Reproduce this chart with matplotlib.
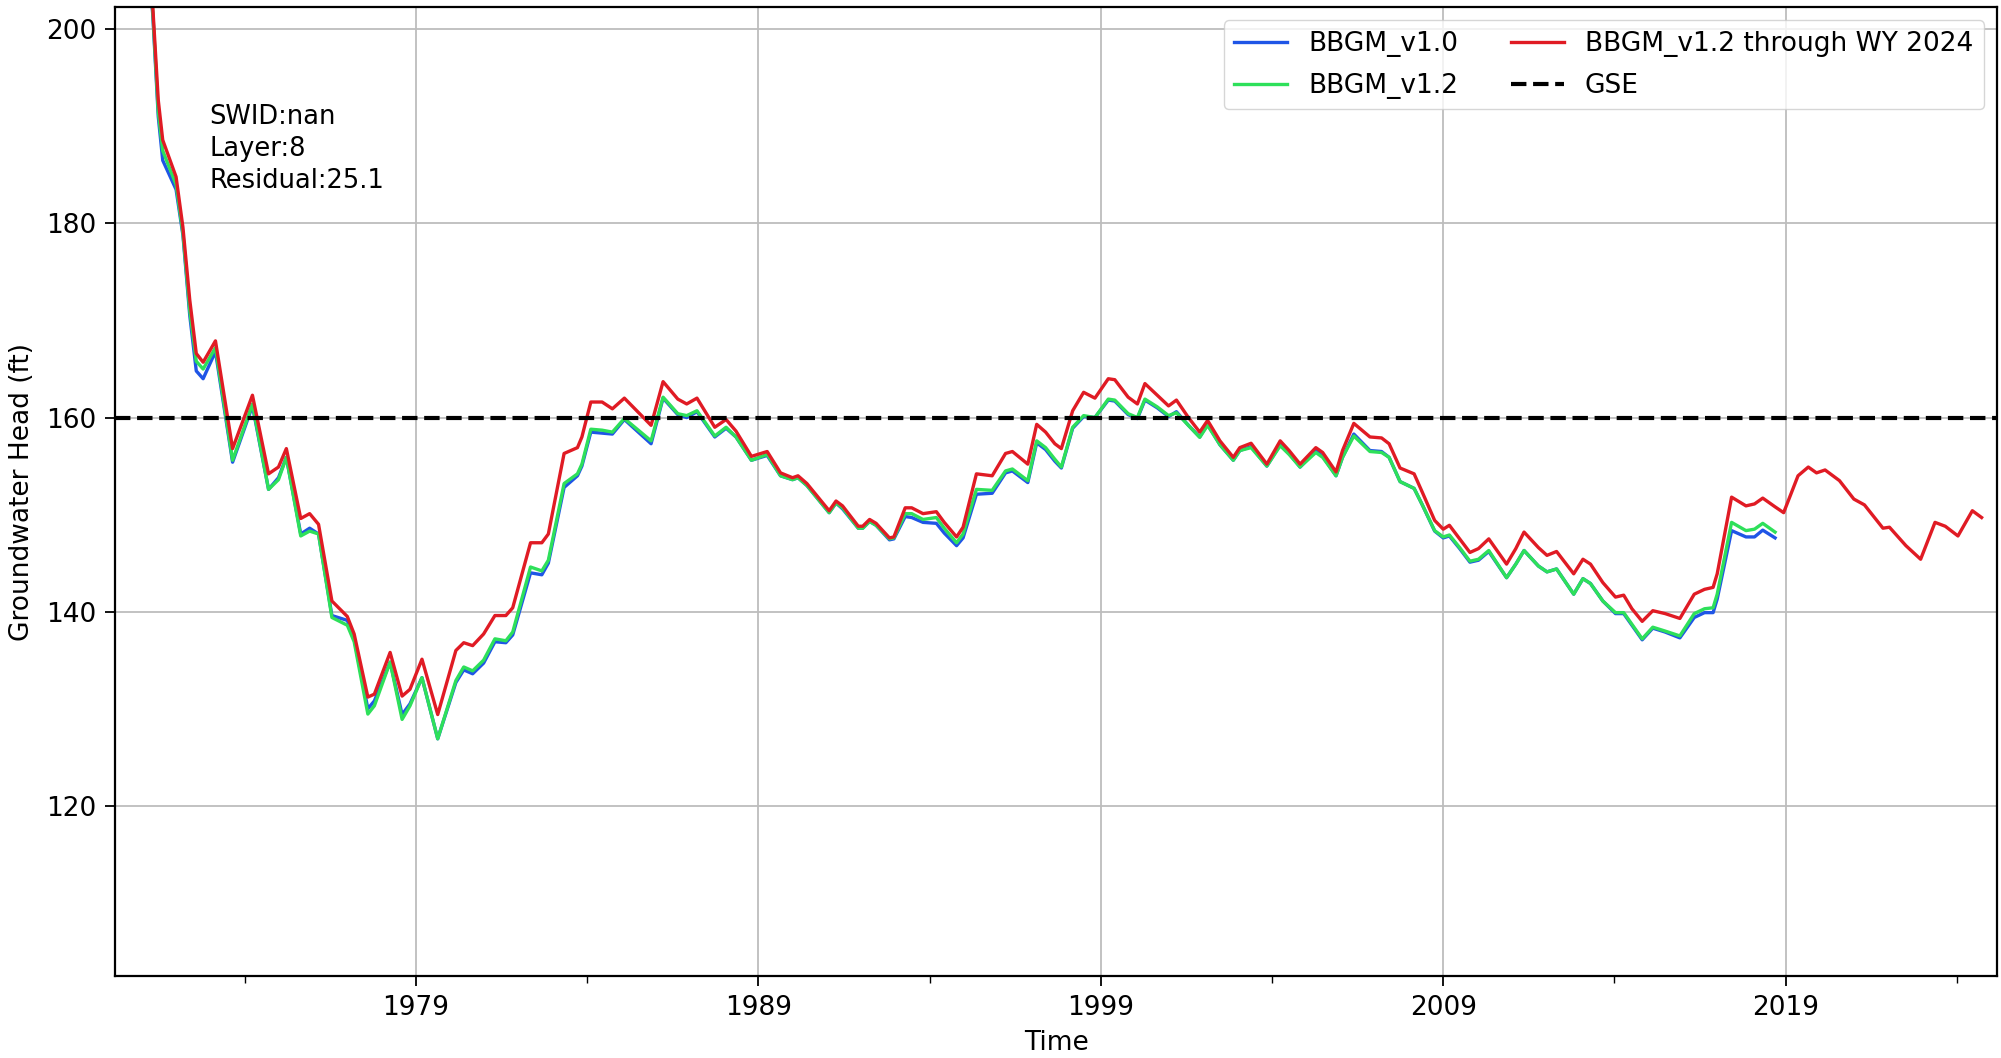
import matplotlib
matplotlib.use("Agg")
import matplotlib.pyplot as plt

# decimal years shared by all three model runs
years = [
    1971.25, 1971.32, 1971.48, 1971.61, 1972.0, 1972.2, 1972.4, 1972.59, 1972.79, 1973.15,
    1973.65, 1974.23, 1974.7, 1974.99, 1975.22, 1975.64, 1975.9, 1976.16, 1976.55, 1977.0,
    1977.2, 1977.6, 1977.79, 1978.25, 1978.6, 1978.83, 1979.18, 1979.64, 1980.17, 1980.4,
    1980.66, 1980.98, 1981.31, 1981.63, 1981.83, 1982.35, 1982.68, 1982.87, 1983.33, 1983.72,
    1983.85, 1984.11, 1984.44, 1984.74, 1985.09, 1985.87, 1986.22, 1986.65, 1986.91, 1987.21,
    1987.73, 1988.06, 1988.35, 1988.8, 1989.26, 1989.65, 1990.0, 1990.16, 1990.42, 1991.07,
    1991.27, 1991.46, 1991.92, 1992.05, 1992.25, 1992.44, 1992.83, 1992.96, 1993.29, 1993.48,
    1993.81, 1994.2, 1994.43, 1994.79, 1994.98, 1995.37, 1995.83, 1996.22, 1996.42, 1996.87,
    1997.13, 1997.39, 1997.66, 1997.85, 1998.18, 1998.5, 1998.83, 1999.22, 1999.41, 1999.8,
    2000.07, 2000.29, 2000.65, 2000.98, 2001.21, 2001.56, 2001.89, 2002.12, 2002.48, 2002.87,
    2003.06, 2003.39, 2003.85, 2004.24, 2004.5, 2004.82, 2005.28, 2005.48, 2005.87, 2006.06,
    2006.39, 2006.86, 2007.2, 2007.42, 2007.74, 2008.15, 2008.39, 2008.75, 2009.0, 2009.18,
    2009.48, 2009.78, 2010.03, 2010.33, 2010.85, 2011.12, 2011.36, 2011.78, 2012.03, 2012.31,
    2012.81, 2013.08, 2013.3, 2013.66, 2014.03, 2014.27, 2014.51, 2014.81, 2015.12, 2015.48,
    2015.91, 2016.33, 2016.63, 2016.88, 2017.0, 2017.42, 2017.84, 2018.09, 2018.33, 2018.69,
]

bbgm_v10 = [
    204.5, 201.5, 191.0, 186.5, 183.5, 178.8, 170.5, 164.8, 164.0, 166.8,
    155.4, 161.2, 152.6, 153.8, 155.9, 148.0, 148.6, 148.0, 139.6, 139.1,
    137.2, 130.0, 130.8, 134.8, 129.4, 130.5, 133.2, 126.9, 132.7, 134.0,
    133.6, 134.7, 136.9, 136.8, 137.6, 144.0, 143.8, 145.0, 152.8, 154.0,
    155.0, 158.5, 158.4, 158.3, 159.8, 157.3, 162.0, 160.3, 160.0, 160.6,
    158.0, 158.9, 158.0, 155.6, 156.1, 154.0, 153.6, 153.8, 153.0, 150.2,
    151.2, 150.6, 148.6, 148.6, 149.3, 148.9, 147.4, 147.5, 149.8, 149.7,
    149.2, 149.1, 148.1, 146.8, 147.6, 152.1, 152.2, 154.3, 154.5, 153.3,
    157.4, 156.7, 155.5, 154.8, 158.9, 160.1, 160.0, 161.8, 161.7, 160.3,
    159.9, 161.8, 161.0, 160.1, 160.6, 159.2, 158.0, 159.3, 157.2, 155.6,
    156.6, 157.0, 155.0, 157.2, 156.3, 154.9, 156.6, 156.0, 154.0, 155.9,
    158.3, 156.6, 156.5, 155.9, 153.4, 152.7, 151.0, 148.3, 147.6, 147.8,
    146.5, 145.1, 145.3, 146.2, 143.5, 144.9, 146.3, 144.7, 144.1, 144.4,
    141.8, 143.4, 142.9, 141.1, 139.8, 139.8, 138.6, 137.1, 138.3, 137.9,
    137.3, 139.4, 139.9, 139.9, 141.3, 148.35, 147.7, 147.7, 148.4, 147.6,
]

bbgm_v12 = [
    204.5, 201.8, 191.5, 187.5, 184.0, 179.0, 171.0, 165.8, 165.0, 167.2,
    155.6, 161.4, 152.6, 153.6, 155.9, 147.8, 148.3, 148.0, 139.4, 138.6,
    136.9, 129.45, 130.3, 134.8, 128.9, 130.3, 133.2, 126.9, 132.9, 134.3,
    133.9, 135.0, 137.2, 137.0, 137.9, 144.6, 144.2, 145.3, 153.2, 154.2,
    155.2, 158.8, 158.7, 158.5, 159.9, 157.6, 162.1, 160.4, 160.2, 160.7,
    158.1, 159.0, 158.0, 155.6, 156.2, 154.0, 153.6, 153.8, 153.0, 150.2,
    151.2, 150.7, 148.6, 148.6, 149.3, 148.9, 147.5, 147.6, 150.1, 150.1,
    149.5, 149.7, 148.6, 147.1, 148.0, 152.6, 152.5, 154.5, 154.7, 153.5,
    157.6, 156.9, 155.7, 154.9, 159.0, 160.2, 160.0, 161.9, 161.8, 160.4,
    160.0, 161.9, 161.1, 160.2, 160.5, 159.2, 157.96, 159.2, 157.2, 155.6,
    156.6, 156.9, 155.0, 157.1, 156.2, 154.9, 156.4, 155.9, 154.0, 155.9,
    158.1, 156.5, 156.4, 155.9, 153.4, 152.7, 151.0, 148.35, 147.7, 147.9,
    146.6, 145.2, 145.4, 146.3, 143.5, 144.9, 146.3, 144.7, 144.1, 144.4,
    141.8, 143.4, 142.9, 141.1, 139.9, 139.9, 138.7, 137.2, 138.4, 138.0,
    137.5, 139.8, 140.3, 140.4, 141.8, 149.2, 148.35, 148.5, 149.1, 148.2,
]

# v1.2 run extended through water year 2024
years_wy2024 = years + [
    2018.94, 2019.36, 2019.66, 2019.9, 2020.15, 2020.57, 2020.99, 2021.3, 2021.84, 2022.03,
    2022.51, 2022.94, 2023.36, 2023.66, 2024.03, 2024.45, 2024.72,
]
bbgm_v12_wy2024 = [
    205.0, 202.3, 192.7, 188.6, 184.8, 179.6, 172.1, 166.6, 165.7, 167.9,
    156.8, 162.3, 154.2, 154.9, 156.8, 149.6, 150.1, 149.0, 141.1, 139.5,
    137.7, 131.2, 131.5, 135.8, 131.3, 132.0, 135.1, 129.4, 136.0, 136.8,
    136.5, 137.7, 139.6, 139.6, 140.4, 147.1, 147.1, 148.0, 156.3, 156.9,
    158.0, 161.6, 161.6, 160.9, 162.0, 159.2, 163.7, 161.9, 161.4, 162.0,
    159.0, 159.8, 158.6, 156.0, 156.5, 154.3, 153.8, 154.0, 153.2, 150.4,
    151.4, 150.9, 148.8, 148.8, 149.5, 149.1, 147.6, 147.7, 150.7, 150.7,
    150.1, 150.3, 149.2, 147.7, 148.7, 154.2, 154.0, 156.3, 156.5, 155.2,
    159.3, 158.5, 157.3, 156.8, 160.7, 162.6, 162.0, 164.0, 163.9, 162.1,
    161.4, 163.5, 162.3, 161.2, 161.8, 160.0, 158.5, 159.7, 157.6, 155.9,
    156.9, 157.35, 155.2, 157.6, 156.6, 155.2, 156.9, 156.4, 154.4, 156.6,
    159.4, 158.0, 157.9, 157.3, 154.8, 154.2, 152.3, 149.4, 148.5, 148.9,
    147.5, 146.1, 146.5, 147.5, 144.9, 146.5, 148.2, 146.6, 145.8, 146.2,
    143.9, 145.4, 144.9, 143.0, 141.5, 141.7, 140.3, 139.0, 140.1, 139.8,
    139.3, 141.8, 142.3, 142.5, 143.9, 151.8, 150.9, 151.1, 151.7, 150.8,
    150.2, 154.0, 154.9, 154.3, 154.6, 153.5, 151.6, 151.0, 148.6, 148.7,
    146.8, 145.4, 149.2, 148.8, 147.8, 150.4, 149.7,
]

gse = 160.0
swid = "nan"
layer = 8
residual = 25.1

major_years = [1979, 1989, 1999, 2009, 2019]
minor_years = [1974, 1984, 1994, 2004, 2014, 2024]

plt.rcParams['font.family'] = 'DejaVu Sans'
plt.rcParams['font.size'] = 19

fig = plt.figure(figsize=(20.01, 10.58), dpi=100)
ax = fig.add_axes([0.0577, 0.0775, 0.9403, 0.9156])

l1, = ax.plot(years, bbgm_v10, color='#1f55e6', lw=2.4, label='BBGM_v1.0')
l2, = ax.plot(years, bbgm_v12, color='#2ee05a', lw=2.4, label='BBGM_v1.2')
l3, = ax.plot(years_wy2024, bbgm_v12_wy2024, color='#e01b24', lw=2.4,
              label='BBGM_v1.2 through WY 2024')
l4 = ax.axhline(gse, color='black', ls='--', lw=3, label='GSE', zorder=5)

ax.set_xlim(1970.23, 2025.17)
ax.set_ylim(102.46, 202.27)
ax.set_yticks([120, 140, 160, 180, 200])
ax.set_xticks(major_years)
ax.set_xticklabels([str(y) for y in major_years])
ax.set_xticks(minor_years, minor=True)

ax.grid(True, color='#bdbdbd', lw=1.3)
ax.tick_params(axis='both', which='major', labelsize=19, length=7, width=1.3, pad=7)
ax.tick_params(axis='x', which='minor', length=5, width=1.0)
for sp in ax.spines.values():
    sp.set_linewidth(1.6)

ax.set_xlabel('Time', fontsize=19, labelpad=6)
ax.set_ylabel('Groundwater Head (ft)', fontsize=19, labelpad=8)

ax.text(0.05, 0.9, f'SWID:{swid}\nLayer:{layer}\nResidual:{residual}',
        transform=ax.transAxes, va='top', ha='left', fontsize=18.5, linespacing=1.3)

ax.legend(handles=[l1, l2, l3, l4], loc='upper right', ncol=2, fontsize=19,
          handlelength=2.0, labelspacing=0.6)

fig.savefig('out.png', dpi=100)
